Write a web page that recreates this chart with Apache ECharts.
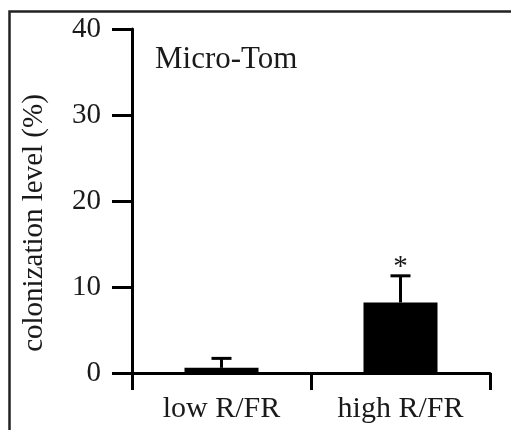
<!DOCTYPE html>
<html>
<head>
<meta charset="utf-8">
<script src="https://cdn.jsdelivr.net/npm/echarts@6/dist/echarts.min.js"></script>
<style>html,body{margin:0;padding:0;background:#fff;}#c{width:511px;height:430px;}</style>
</head>
<body>
<div id="c"></div>
<script>
const categories = ['low R/FR', 'high R/FR'];
const means = [0.6, 8.2];
const errTops = [1.7, 11.3];
const marks = ['', '*'];
const yTicks = { min: 0, max: 40, interval: 10 };
const panelTitle = 'Micro-Tom';
const yTitle = 'colonization level (%)';

const FONT = '"Liberation Serif", "Times New Roman", serif';
const chart = echarts.init(document.getElementById('c'), null, { renderer: 'canvas' });

const errData = categories.map((c, i) => [i, means[i], errTops[i], marks[i]]);

chart.setOption({
  backgroundColor: '#fff',
  animation: false,
  title: {
    text: panelTitle, left: 150, top: 39,
    textStyle: { fontFamily: FONT, fontSize: 31, fontWeight: 'normal', color: '#1a1a1a' }
  },
  graphic: [
    { type: 'rect', shape: { x: 9.5, y: 11.5, width: 700, height: 700 },
      style: { fill: 'none', stroke: '#222', lineWidth: 2.5 }, silent: true },
    { type: 'text', x: 34, y: 223, rotation: Math.PI / 2,
      style: { text: yTitle, font: '29px ' + FONT, fill: '#1a1a1a', align: 'center', verticalAlign: 'middle' } }
  ],
  grid: { left: 132, right: 21, top: 29, bottom: 57, containLabel: false },
  xAxis: {
    type: 'category', data: categories, boundaryGap: true,
    axisLine: { show: true, lineStyle: { color: '#000', width: 3 } },
    axisTick: { show: true, length: 17, lineStyle: { color: '#000', width: 3 }, alignWithLabel: false },
    axisLabel: { fontFamily: FONT, fontSize: 30, color: '#1a1a1a', margin: 21 },
    splitLine: { show: false }
  },
  yAxis: {
    type: 'value', min: yTicks.min, max: yTicks.max, interval: yTicks.interval,
    axisLine: { show: true, lineStyle: { color: '#000', width: 3 } },
    axisTick: { show: true, length: 20, lineStyle: { color: '#000', width: 3 } },
    axisLabel: { fontFamily: FONT, fontSize: 29, color: '#1a1a1a', margin: 31 },
    splitLine: { show: false }
  },
  series: [
    { type: 'bar', data: means, barWidth: 74, itemStyle: { color: '#000' }, z: 2 },
    { type: 'custom', data: errData, z: 3,
      renderItem: function (params, api) {
        const i = api.value(0);
        const base = api.coord([i, api.value(1)]);
        const top = api.coord([i, api.value(2)]);
        const half = 10;
        const st = { stroke: '#000', lineWidth: 3 };
        return { type: 'group', children: [
          { type: 'line', shape: { x1: base[0], y1: base[1], x2: top[0], y2: top[1] }, style: st },
          { type: 'line', shape: { x1: top[0] - half, y1: top[1], x2: top[0] + half, y2: top[1] }, style: st },
          { type: 'text', x: top[0], y: top[1] + 6,
            style: { text: api.value(3), font: '29px ' + FONT, fill: '#1a1a1a', align: 'center', verticalAlign: 'bottom' } }
        ] };
      }
    }
  ]
});
</script>
</body>
</html>
